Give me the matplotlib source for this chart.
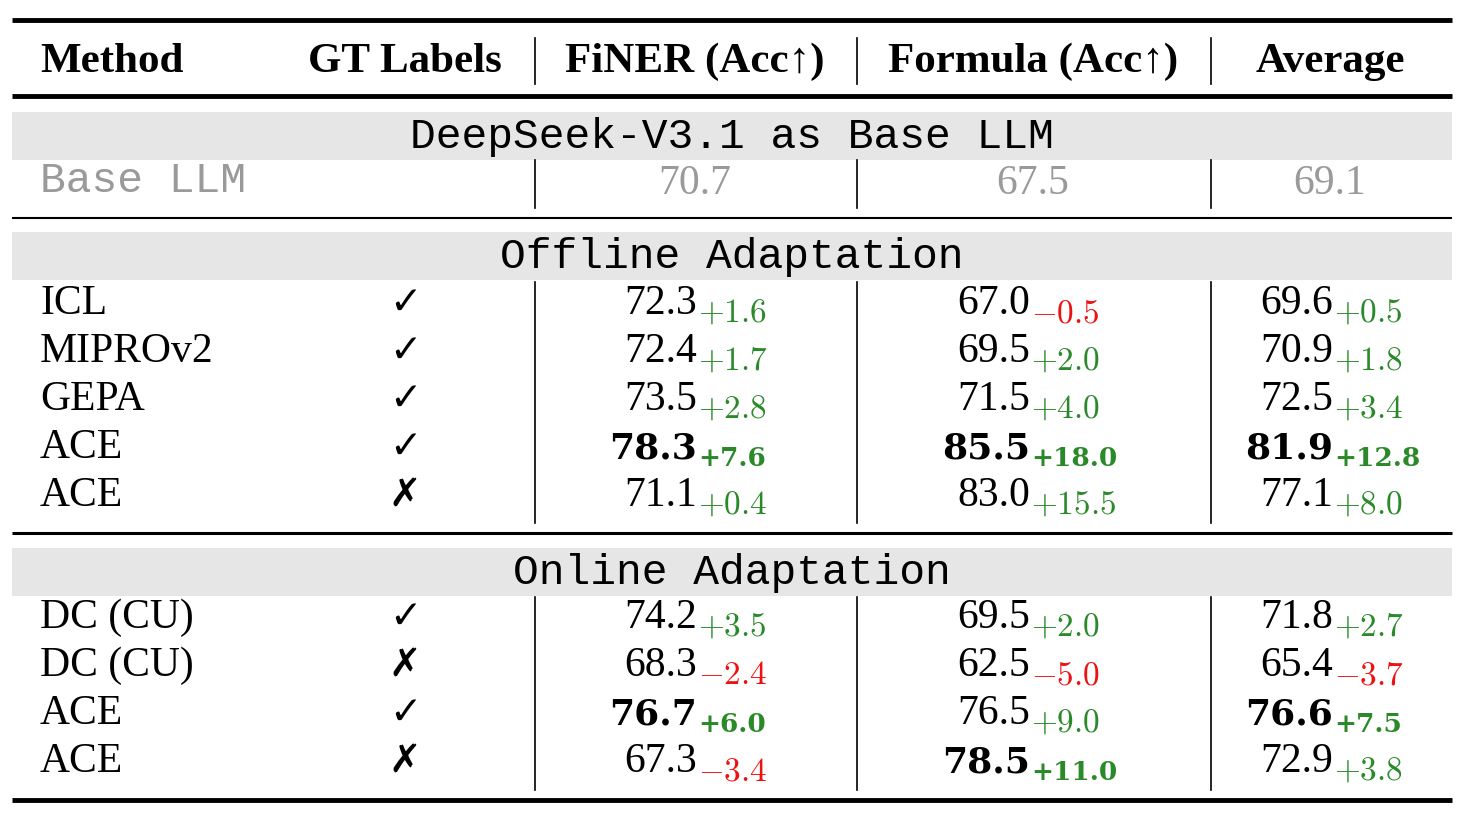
import matplotlib
matplotlib.use("Agg")
import matplotlib.pyplot as plt

plt.rcParams['mathtext.fontset'] = 'cm'

headers = ["Method", "GT Labels", "FiNER (Acc↑)", "Formula (Acc↑)", "Average"]
base_vals = [70.7, 67.5, 69.1]
offline_methods = ["ICL", "MIPROv2", "GEPA", "ACE", "ACE"]
offline_gt = [True, True, True, True, False]
offline_finer = [72.3, 72.4, 73.5, 78.3, 71.1]
offline_formula = [67.0, 69.5, 71.5, 85.5, 83.0]
offline_avg = [69.6, 70.9, 72.5, 81.9, 77.1]
offline_bold = [[False]*3, [False]*3, [False]*3, [True]*3, [False]*3]
online_methods = ["DC (CU)", "DC (CU)", "ACE", "ACE"]
online_gt = [True, False, True, False]
online_finer = [74.2, 68.3, 76.7, 67.3]
online_formula = [69.5, 62.5, 76.5, 78.5]
online_avg = [71.8, 65.4, 76.6, 72.9]
online_bold = [[False]*3, [False]*3, [True, False, True], [False, True, False]]

W, H = 1463, 813
fig = plt.figure(figsize=(W/100, H/100), dpi=100)
ax = fig.add_axes([0, 0, 1, 1])
ax.set_xlim(0, W); ax.set_ylim(H, 0); ax.axis('off')

SERIF = ['Liberation Serif', 'DejaVu Serif']
FS = 30
GREEN = '#2a8a2a'; RED = '#ee1111'; GRAY = '#9a9a9a'
anchors = [697, 1030, 1333]
centers = [695, 1033, 1330]
vx = [535, 857, 1211]

def hline(y, lw):
    ax.plot([12, 1452], [y, y], color='black', lw=lw, solid_capstyle='butt')

def vlines(y0, y1):
    for x in vx:
        ax.plot([x, x], [y0, y1], color='black', lw=1.2)

def band(y0, y1, label):
    ax.add_patch(plt.Rectangle((12, y0), 1440, y1 - y0, color='#e6e6e6', lw=0))
    ax.text(732, (y0 + y1) / 2 + 1, label, family='Liberation Mono', fontsize=31,
            ha='center', va='center')

hline(20, 3.5)
for i, h in enumerate(headers):
    if i == 0:
        ax.text(40, 72, h, family=SERIF, weight='bold', fontsize=31, ha='left', va='baseline')
    else:
        cx = 405 if i == 1 else centers[i - 2]
        ax.text(cx, 72, h, family=SERIF, weight='bold', fontsize=31, ha='center', va='baseline')
vlines(38, 84)
hline(96, 3.5)

band(112, 160, "DeepSeek-V3.1 as Base LLM")
ax.text(40, 192, "Base LLM", family='Liberation Mono', fontsize=31, color=GRAY, ha='left', va='baseline')
for v, cx in zip(base_vals, centers):
    ax.text(cx, 194, f"{v:.1f}", family=SERIF, fontsize=FS, color=GRAY, ha='center', va='baseline')
vlines(160, 208)
hline(218, 1.5)

def rows(y_start, methods, gt, cols, bolds):
    for r, m in enumerate(methods):
        yc = y_start + 48 * r
        base = yc + 12
        ax.text(40, base, m, family=SERIF, fontsize=FS, ha='left', va='baseline')
        ax.text(405, yc + 1, '✓' if gt[r] else '✗', family='DejaVu Sans', fontsize=28,
                ha='center', va='center', weight='bold' if not gt[r] else 'normal')
        for c in range(3):
            v = cols[c][r]
            d = v - base_vals[c]
            b = bolds[r][c]
            if b:
                ax.text(anchors[c], base, f"{v:.1f}", family='DejaVu Serif', weight='bold',
                        fontsize=26, ha='right', va='baseline')
            else:
                ax.text(anchors[c], base, f"{v:.1f}", family=SERIF, fontsize=FS, ha='right', va='baseline')
            s = ('+' if d >= 0 else '\u2212') + f"{abs(d):.1f}"
            col = GREEN if d >= 0 else RED
            if b:
                ax.text(anchors[c] + 1, base + 8, s, family='DejaVu Serif', weight='bold',
                        fontsize=19, color=col, ha='left', va='baseline')
            else:
                ax.text(anchors[c] + 1, base + 8, r'$%s$' % s.replace('\u2212', '-'), fontsize=24,
                        color=col, ha='left', va='baseline')

band(232, 280, "Offline Adaptation")
rows(302, offline_methods, offline_gt, [offline_finer, offline_formula, offline_avg], offline_bold)
vlines(282, 523)
hline(533, 2.2)

band(548, 596, "Online Adaptation")
rows(616, online_methods, online_gt, [online_finer, online_formula, online_avg], online_bold)
vlines(597, 790)
hline(800, 3.5)

fig.savefig("out.png", dpi=100)
